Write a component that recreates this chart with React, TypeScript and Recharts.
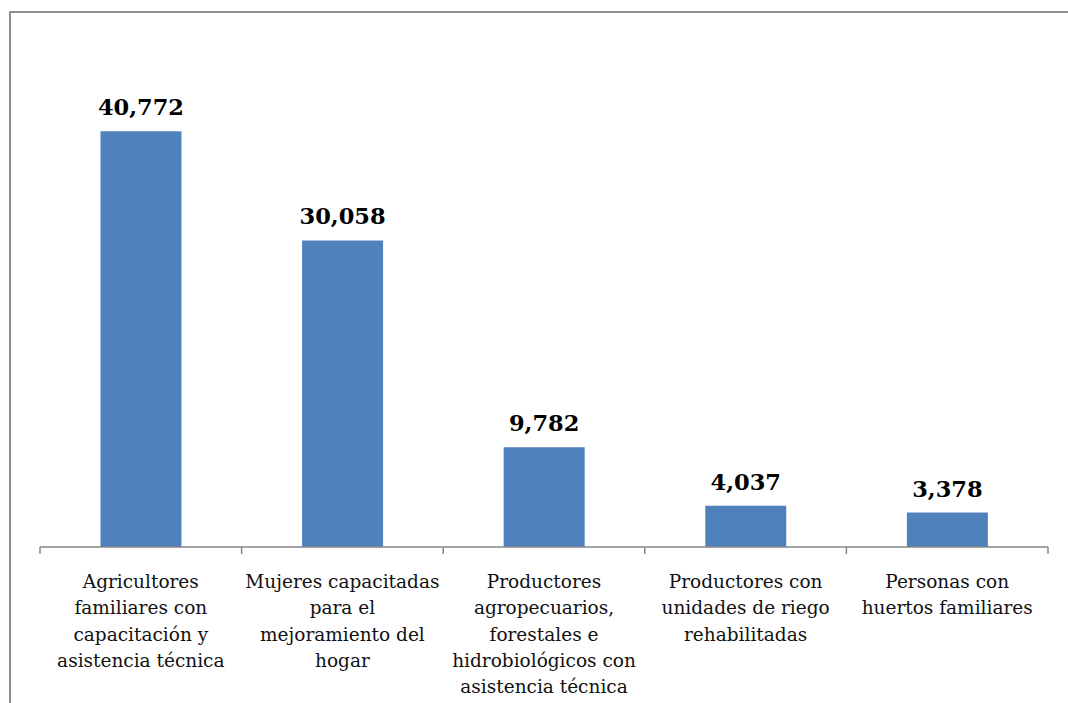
import React from "react";
import { BarChart, Bar, XAxis, YAxis, LabelList } from "recharts";

const categories = [
  "Agricultores\nfamiliares con\ncapacitación y\nasistencia técnica",
  "Mujeres capacitadas\npara el\nmejoramiento del\nhogar",
  "Productores\nagropecuarios,\nforestales e\nhidrobiológicos con\nasistencia técnica",
  "Productores con\nunidades de riego\nrehabilitadas",
  "Personas con\nhuertos familiares",
];
const values = [40772, 30058, 9782, 4037, 3378];

const data = categories.map((c, i) => ({ name: c, value: values[i] }));

const FONT = "'DejaVu Serif', serif";

const Tick = (props: any) => {
  const { x, y, payload } = props;
  const lines = String(payload.value).split("\n");
  return (
    <g transform={`translate(${x},${y})`}>
      {lines.map((l: string, i: number) => (
        <text
          key={i}
          x={0}
          y={28 + i * 26.3}
          textAnchor="middle"
          dominantBaseline="middle"
          fontFamily={FONT}
          fontSize={18.5}
          fill="#111"
        >
          {l}
        </text>
      ))}
    </g>
  );
};

const fmt = (v: any) => Number(v).toLocaleString("en-US");

export default function App() {
  return (
    <div style={{ position: "absolute", left: 0, top: 0, width: 1068, height: 703, background: "#fff" }}>
      <div
        style={{
          position: "absolute",
          left: 9,
          top: 11,
          right: 0,
          bottom: 0,
          borderLeft: "2px solid #8f8f8f",
          borderTop: "2px solid #8f8f8f",
        }}
      />
      <div style={{ position: "absolute", left: 0, top: 0 }}>
        <BarChart
          width={1068}
          height={703}
          data={data}
          margin={{ top: 88, right: 20, bottom: 0, left: 40 }}
          barCategoryGap="30%"
        >
          <XAxis
            dataKey="name"
            interval={0}
            tick={<Tick />}
            tickLine={false}
            axisLine={{ stroke: "#868686", strokeWidth: 1.5 }}
            height={156}
          />
          <YAxis hide domain={[0, 45000]} />
          <Bar dataKey="value" fill="#4F81BD" isAnimationActive={false}>
            <LabelList
              dataKey="value"
              position="top"
              offset={16}
              formatter={fmt}
              style={{ fontFamily: FONT, fontSize: 22.5, fontWeight: "bold", fill: "#000" }}
            />
          </Bar>
        </BarChart>
      </div>
      <svg style={{ position: "absolute", left: 0, top: 0 }} width={1068} height={703} pointerEvents="none">
        {[40, 241.6, 443.2, 644.8, 846.4, 1048].map((x, i) => (
          <line key={i} x1={x} x2={x} y1={547} y2={554} stroke="#868686" strokeWidth={1.5} />
        ))}
      </svg>
    </div>
  );
}
